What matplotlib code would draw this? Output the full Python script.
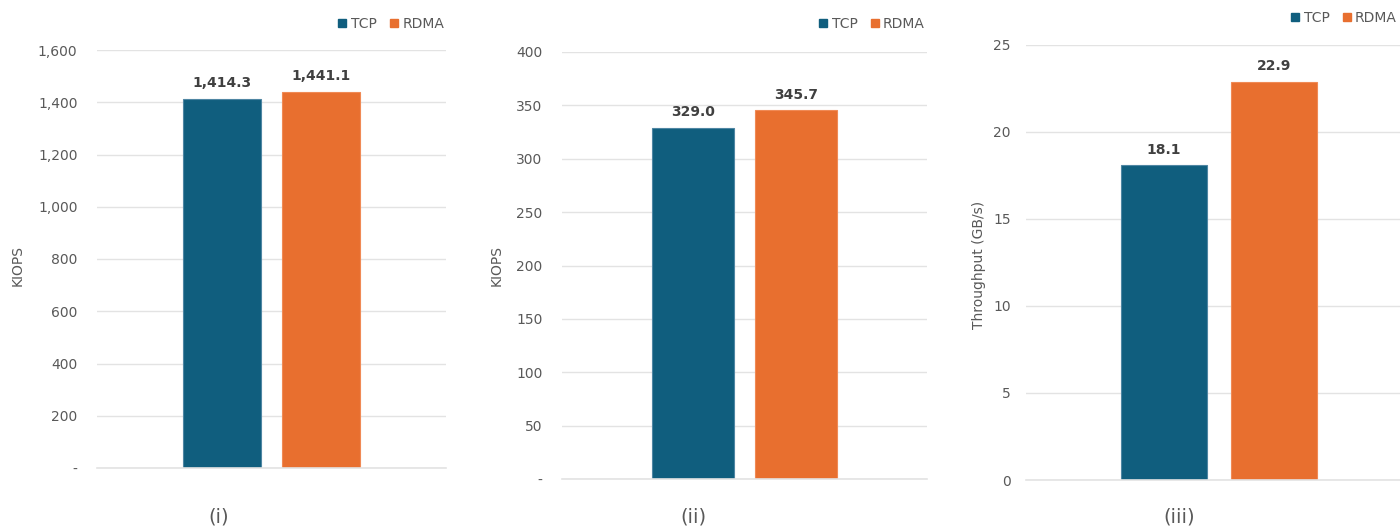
import matplotlib.pyplot as plt
from matplotlib.lines import Line2D
from matplotlib.ticker import FuncFormatter

series = ["TCP", "RDMA"]
colors = ["#105E7E", "#E86F2F"]
edge_colors = ["#4F86A3", "#F08A55"]

panel_names = ["(i)", "(ii)", "(iii)"]
ylabels = ["KIOPS", "KIOPS", "Throughput (GB/s)"]
kiops_4k = [1414.3, 1441.1]
kiops_16k = [329.0, 345.7]
throughput = [18.1, 22.9]
panel_values = [kiops_4k, kiops_16k, throughput]
y_max = [1600, 400, 25]
y_step = [200, 50, 5]

W, H = 1400, 527
fig = plt.figure(figsize=(W / 100, H / 100), dpi=100)
plt.rcParams["font.family"] = "DejaVu Sans"

# pixel boxes: left, right, top, bottom of each plot area
boxes = [(97, 446, 50, 468), (562, 927, 52, 479), (1026, 1412, 45, 480)]
label_x = [219, 693, 1179]
ylabel_x = [18, 497, 979]
legend_y = [24, 24, 18]
legend_right = [444, 925, 1397]
tick_pad = [14, 14, 11]


def kfmt(v, _):
    if v == 0:
        return "-"
    return f"{v:,.0f}"


for i, vals in enumerate(panel_values):
    l, r, t, b = boxes[i]
    ax = fig.add_axes([l / W, 1 - b / H, (r - l) / W, (b - t) / H])
    xs = [0, 1]
    bars = ax.bar(xs, vals, width=0.79, color=colors,
                  edgecolor=edge_colors, linewidth=0.8, zorder=3)
    for bar, v in zip(bars, vals):
        ax.annotate(f"{v:,.1f}", (bar.get_x() + bar.get_width() / 2, v),
                    xytext=(0, 6), textcoords="offset points",
                    ha="center", va="bottom", fontsize=10,
                    fontweight="bold", color="#404040")
    ax.set_xlim(-1.26, 2.26)
    ax.set_ylim(0, y_max[i])
    ax.set_yticks(range(0, y_max[i] + 1, y_step[i]))
    if i < 2:
        ax.yaxis.set_major_formatter(FuncFormatter(kfmt))
    ax.set_xticks([])
    ax.grid(axis="y", color="#E3E3E3", linewidth=1.0, zorder=0)
    ax.axhline(0, color="#E3E3E3", linewidth=1.2, zorder=4, clip_on=False)
    ax.tick_params(axis="y", length=0, pad=tick_pad[i],
                   labelsize=10, labelcolor="#595959")
    for s in ax.spines.values():
        s.set_visible(False)

    fig.text(label_x[i] / W, 1 - 517 / H, panel_names[i], ha="center",
             va="center", fontsize=14, color="#595959")
    fig.text(ylabel_x[i] / W, 1 - 265 / H, ylabels[i], ha="center",
             va="center", rotation=90, fontsize=10, color="#595959")

    handles = [Line2D([], [], marker="s", linestyle="none", markersize=6,
                      color=c) for c in colors]
    ax.legend(handles, series, loc="center right",
              bbox_to_anchor=(legend_right[i] / W, 1 - legend_y[i] / H),
              bbox_transform=fig.transFigure, ncol=2, frameon=False,
              borderpad=0, borderaxespad=0, handlelength=0.8,
              handletextpad=0.2, columnspacing=0.85,
              prop={"size": 10}, labelcolor="#595959")

fig.savefig("out.png", dpi=100)
